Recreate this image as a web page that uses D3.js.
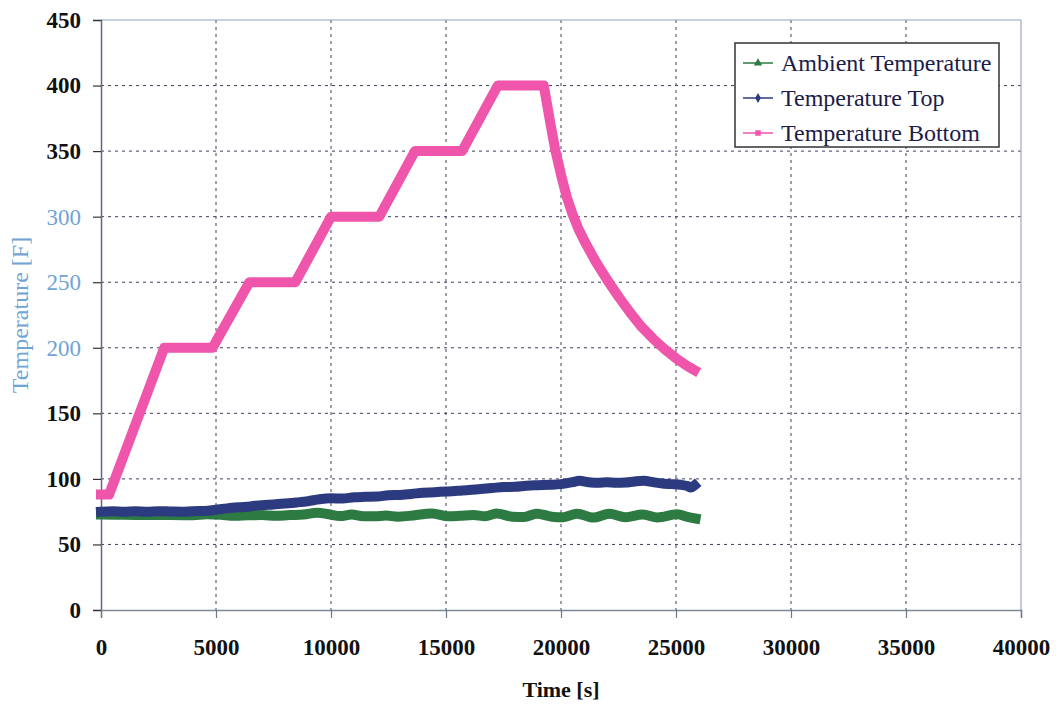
<!DOCTYPE html>
<html>
<head>
<meta charset="utf-8">
<script src="https://cdn.jsdelivr.net/npm/d3@7"></script>
<style>
  body { margin: 0; background: #fff; }
  text { font-family: "Liberation Serif", "DejaVu Serif", serif; }
</style>
</head>
<body>
<svg id="chart" width="1060" height="709"></svg>
<script>
// time [s] / temperature [F]
var bottomTime = [0, 350, 2750, 4850, 6450, 8450, 10000, 12100, 13650, 15700, 17250, 19250,
    19400, 19550, 19750, 20000, 20250, 20500, 20750, 21000, 21500, 22000, 22500, 23000, 23500, 24000, 24500, 25000, 25500, 25800]
var bottomTemp = [88, 88, 200, 200, 250, 250, 300, 300, 350, 350, 400, 400,
    385, 370, 351, 332, 315, 302, 291, 282, 266, 252, 239, 227, 216, 207, 199, 192, 186, 183]

var topTime = [0, 500, 1000, 1500, 2000, 2500, 3000, 3500, 4000, 4500, 5000, 5500, 6000, 6500, 7000, 7500,
    8000, 8500, 9000, 9500, 10000, 10500, 11000, 11500, 12000, 12500, 13000, 13500, 14000, 14500, 15000,
    15500, 16000, 16500, 17000, 17500, 18000, 18500, 19000, 19500, 20000, 20500, 20800, 21200, 21600,
    22000, 22400, 22800, 23200, 23600, 24000, 24400, 24800, 25200, 25500, 25650, 25800]
var topTemp = [75, 75.4, 75, 75.3, 75, 75.4, 75.2, 75, 75.4, 75.5, 76.5, 77.5, 78.3, 79, 80, 80.5,
    81.2, 82, 83, 84.5, 85.2, 85, 86, 86.3, 86.5, 87.5, 87.8, 88.5, 89.5, 89.8, 90.3,
    91, 91.5, 92.3, 93, 93.8, 94, 94.8, 95.2, 95.5, 96, 97.5, 98.5, 97.5, 97,
    97.5, 97, 97.2, 98, 98.5, 97.5, 96.5, 96, 95.5, 94.5, 93.5, 95]

var ambientTime = [0, 1000, 2000, 3000, 4000, 4600, 5200, 5800, 6400, 7000, 7600, 8200, 8800, 9400,
    9900, 10400, 10900, 11400, 11900, 12400, 12900, 13400, 14400, 15100, 15600, 16200, 16700, 17200,
    17900, 18400, 18950, 19600, 20100, 20700, 21400, 22100, 22800, 23550, 24200, 25050, 25500, 25850]
var ambientTemp = [72.8, 72.6, 72.5, 72.4, 72.3, 73, 72.6, 71.8, 72.2, 72.4, 71.8, 72.4, 72.8, 74.2,
    73, 71.6, 72.8, 71.5, 71.5, 72, 71.2, 71.8, 73.6, 71.5, 71.8, 72.4, 71.5, 73.6,
    71.2, 71, 73.5, 71.2, 70.8, 73.5, 70.5, 73.4, 70.8, 72.8, 70.6, 73, 71, 69.8]

var xTicks = [0, 5000, 10000, 15000, 20000, 25000, 30000, 35000, 40000]
var yTicks = [0, 50, 100, 150, 200, 250, 300, 350, 400, 450]
var blueTicks = [200, 250, 300]

var series = [
    {name: "Ambient Temperature", time: ambientTime, temp: ambientTemp, colour: "#2d7a42", marker: "triangle", curve: d3.curveMonotoneX},
    {name: "Temperature Top", time: topTime, temp: topTemp, colour: "#2c3a80", marker: "diamond", curve: d3.curveMonotoneX},
    {name: "Temperature Bottom", time: bottomTime, temp: bottomTemp, colour: "#ee55ab", marker: "square", curve: d3.curveLinear}
]

var svg = d3.select("#chart")
var plotLeft = 101, plotRight = 1021, plotTop = 20, plotBottom = 610

var x = d3.scaleLinear().domain([0, 40000]).range([plotLeft, plotRight])
var y = d3.scaleLinear().domain([0, 450]).range([plotBottom, plotTop])

// grid
var grid = svg.append("g")
grid.selectAll(".gx")
    .data(xTicks.slice(1, -1))
    .enter()
    .append("line")
    .attr("x1", d => x(d)).attr("x2", d => x(d))
    .attr("y1", plotTop).attr("y2", plotBottom)
    .attr("stroke", "#3f3f5c")
    .attr("stroke-width", 1)
    .attr("stroke-dasharray", "3,4")
grid.selectAll(".gy")
    .data(yTicks.slice(1, -1))
    .enter()
    .append("line")
    .attr("x1", plotLeft).attr("x2", plotRight)
    .attr("y1", d => y(d)).attr("y2", d => y(d))
    .attr("stroke", "#3f3f5c")
    .attr("stroke-width", 1)
    .attr("stroke-dasharray", "3,4")

// plot frame
svg.append("line").attr("x1", plotLeft).attr("x2", plotRight).attr("y1", plotTop).attr("y2", plotTop)
    .attr("stroke", "#8fa3c8").attr("stroke-width", 1.2)
svg.append("line").attr("x1", plotRight).attr("x2", plotRight).attr("y1", plotTop).attr("y2", plotBottom)
    .attr("stroke", "#a9a3c2").attr("stroke-width", 1.2)

// axes
var yAxis = svg.append("g")
    .attr("transform", "translate(" + plotLeft + ",0)")
    .call(d3.axisLeft(y).tickValues(yTicks).tickSize(8).tickPadding(12))
yAxis.select(".domain").attr("stroke", "#6b5f8c").attr("stroke-width", 1.5)
yAxis.selectAll(".tick line").attr("stroke", "#333").attr("stroke-width", 1.2)
yAxis.selectAll(".tick text")
    .attr("font-size", 23)
    .attr("font-family", "Liberation Serif")
    .attr("font-weight", d => blueTicks.indexOf(d) >= 0 ? "normal" : "bold")
    .attr("fill", d => blueTicks.indexOf(d) >= 0 ? "#6fa4d4" : "#111")

var xAxis = svg.append("g")
    .attr("transform", "translate(0," + plotBottom + ")")
    .call(d3.axisBottom(x).tickValues(xTicks).tickSize(8).tickPadding(21).tickFormat(d3.format("d")))
xAxis.select(".domain").attr("stroke", "#7d8a98").attr("stroke-width", 1.5)
xAxis.selectAll(".tick line").attr("stroke", "#6d7a88").attr("stroke-width", 1.2)
xAxis.selectAll(".tick text")
    .attr("font-size", 23)
    .attr("font-family", "Liberation Serif")
    .attr("font-weight", "bold")
    .attr("fill", "#111")

// titles
svg.append("text")
    .attr("x", 561).attr("y", 697)
    .attr("text-anchor", "middle")
    .attr("font-size", 22)
    .attr("font-weight", "bold")
    .attr("fill", "#111")
    .text("Time [s]")

svg.append("text")
    .attr("transform", "translate(28,315) rotate(-90)")
    .attr("text-anchor", "middle")
    .attr("font-size", 24)
    .attr("fill", "#6fa4d4")
    .text("Temperature [F]")

// series
var plot = svg.append("g")
series.forEach(function (s) {
    var line = d3.line()
        .curve(s.curve)
        .x(d => x(d[0]))
        .y(d => y(d[1]))
    var pts = s.time.map((t, i) => [t, s.temp[i]])
    plot.append("path")
        .datum(pts)
        .attr("d", line)
        .attr("fill", "none")
        .attr("stroke", s.colour)
        .attr("stroke-width", 10)
        .attr("stroke-linejoin", "round")
        .attr("stroke-linecap", "square")
})

// legend
var legend = svg.append("g").attr("transform", "translate(735,43)")
legend.append("rect")
    .attr("width", 264).attr("height", 104)
    .attr("fill", "#fff")
    .attr("stroke", "#333")
    .attr("stroke-width", 1.5)

var markers = {
    triangle: d3.symbol().type(d3.symbolTriangle).size(30),
    diamond: d3.symbol().type(d3.symbolDiamond).size(28),
    square: d3.symbol().type(d3.symbolSquare).size(30)
}

var rows = legend.selectAll(".row")
    .data(series)
    .enter()
    .append("g")
    .attr("transform", (d, i) => "translate(0," + (20 + i * 35) + ")")
rows.append("line")
    .attr("x1", 8).attr("x2", 38)
    .attr("stroke", d => d.colour)
    .attr("stroke-width", 1.5)
rows.append("path")
    .attr("transform", "translate(23,0)")
    .attr("d", d => markers[d.marker]())
    .attr("fill", d => d.colour)
rows.append("text")
    .attr("x", 46)
    .attr("dy", "0.35em")
    .attr("font-size", 24)
    .attr("fill", "#1c1c4a")
    .text(d => d.name)
</script>
</body>
</html>
